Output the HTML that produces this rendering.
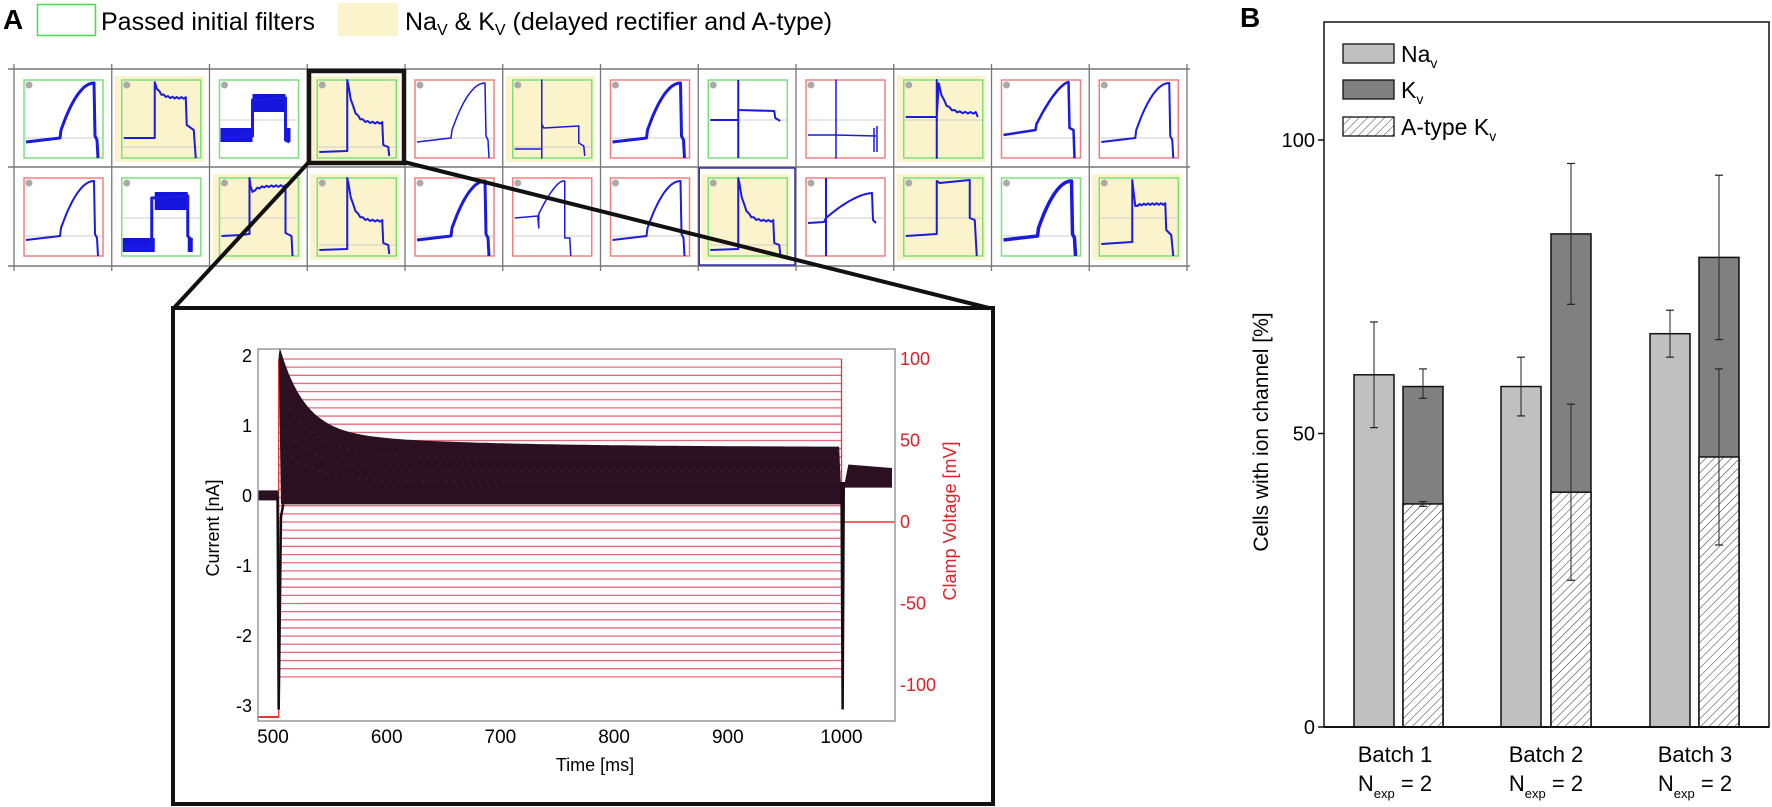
<!DOCTYPE html>
<html><head><meta charset="utf-8"><style>
html,body{margin:0;padding:0;background:#fff;}
svg{display:block;font-family:"Liberation Sans",sans-serif;}
</style></head><body>
<svg id="s" width="1772" height="807" viewBox="0 0 1772 807" xmlns="http://www.w3.org/2000/svg">
<defs>
<pattern id="hatch" patternUnits="userSpaceOnUse" width="6" height="6" patternTransform="rotate(45)">
<rect width="6" height="6" fill="#fff"/><line x1="0" y1="0" x2="0" y2="6" stroke="#333" stroke-width="1"/>
</pattern>
</defs>
<text x="3" y="29" font-size="28" font-weight="bold">A</text>
<rect x="37.5" y="4.5" width="58" height="31" fill="#fff" stroke="#44dd44" stroke-width="1.5"/>
<text x="101" y="30" font-size="25">Passed initial filters</text>
<rect x="338" y="3" width="60" height="33" fill="#fbf3cc"/>
<text x="405" y="30" font-size="25">Na<tspan font-size="16" dy="5">V</tspan><tspan dy="-5"> &amp; K</tspan><tspan font-size="16" dy="5">V</tspan><tspan dy="-5"> (delayed rectifier and A-type)</tspan></text>
<g id="grid"></g>
<line x1="309" y1="162" x2="173" y2="309" stroke="#111" stroke-width="4"/>
<line x1="404" y1="162" x2="993" y2="309" stroke="#111" stroke-width="4"/>
<rect x="309" y="71" width="95" height="92" fill="none" stroke="#1a1410" stroke-width="4.5"/>
<rect x="173" y="308" width="820" height="496" fill="#fff" stroke="#111" stroke-width="4"/>
<g id="inset"></g>
<text x="1240" y="27" font-size="28" font-weight="bold">B</text>
<g id="pb"></g>
</svg>
<script>
var NS="http://www.w3.org/2000/svg";
function el(p,t,a,txt){var e=document.createElementNS(NS,t);for(var k in a)e.setAttribute(k,a[k]);if(txt!==undefined)e.textContent=txt;p.appendChild(e);return e;}
var g=document.getElementById('grid');
var x0=14,step=97.75,rows=[69,167,266];
var R1=[['g',0,'r',3],['g',1,'s',2],['g',0,'n',3],['g',1,'d',2],['r',0,'r',1.5],['g',1,'p',1.5],['r',0,'r',3],['g',0,'c',2],['r',0,'l',1.5],['g',1,'d2',2],['r',0,'r2',2.5],['r',0,'r',2]];
var R2=[['r',0,'r',2],['g',0,'n2',3],['g',1,'d3',2],['g',1,'d',2],['r',0,'r',3],['r',0,'r3',1.5],['r',0,'r',2],['g',1,'d',2],['r',0,'c2',2],['g',1,'q',2],['g',0,'r',3.5],['g',1,'s2',2]];
function tracePath(t){
 var p='';
 function curve(x1,y1,x2,y2,k){var s='';for(var i=0;i<=12;i++){var u=i/12;var x=x1+(x2-x1)*u;var y=y1+(y2-y1)*(1-Math.pow(1-u,k));s+=' L'+x.toFixed(1)+' '+y.toFixed(1);}return s;}
 function decay(x1,y1,x2,y2){var s='';for(var i=0;i<=14;i++){var u=i/14;var x=x1+(x2-x1)*u;var y=y2+(y1-y2)*Math.exp(-u*6);s+=' L'+x.toFixed(1)+' '+(y+(i%2?0.8:-0.8)).toFixed(1);}return s;}
 switch(t){
 case 'r': p='M2 62 L36 58 L37 50'+curve(37,50,70,3,2)+' L71 56 L73 60 L74 78';break;
 case 'r2': p='M2 55 L34 50 L35 44'+curve(35,44,67,2,1.5)+' L68 48 L72 50 L73 78';break;
 case 'r3': p='M2 40 L25 38 L26 50 L26 36'+curve(26,36,50,3,1.5)+' L52 3 L52 60 L57 60 L58 78';break;
 case 's': p='M2 58 L33 58 L33 3'+decay(33,3,64,18)+' L65 45 L72 50 L74 78';break;
 case 's2': p='M2 66 L33 64 L33 2 L36 28'+decay(36,28,66,26)+' L67 52 L72 57 L74 78';break;
 case 'q': p='M2 58 L33 56 L33 3 L36 5 L66 2 L66 40 L71 42 L73 78';break;
 case 'd': p='M2 72 L30 71 L30 0 L31 5'+decay(31,5,65,43)+' L66 65 L71 67 L72 76';break;
 case 'd2': p='M2 37 L33 37 L33 0 L33 78 L33 37 L35 4'+decay(35,4,72,33)+' L74 37';break;
 case 'd3': p='M2 58 L22 57 L30 56 L30 0 L31 8 L33 14'+decay(33,14,66,8)+' L66 55 L72 58 L73 78';break;
 case 'p': p='M2 69 L29 69 L29 0 L29 78 L29 44 L31 48 L66 46 L66 63 L71 66 L72 76';break;
 case 'c': p='M2 40 L30 40 M30 0 L30 78 M30 30 L66 31 L67 38 L72 41';break;
 case 'c2': p='M2 45 L18 44 L20 40'+curve(20,40,66,15,1.6)+' L67 42 L70 45 M20 0 L20 78';break;
 case 'l': p='M2 55 L30 55 L30 0 L30 78 L30 55 L70 56 M68 48 L68 72 M71 46 L71 72';break;
 case 'n': p='M2 58 L33 56 L33 20 L66 18 L66 60 L70 62';break;
 case 'n2': p='M2 70 L30 70 L30 20 L66 18 L66 58 L70 62';break;
 }
 return p;
}
[R1,R2].forEach(function(row,ri){
 var ty=rows[ri];
 row.forEach(function(c,ci){
  var cx=x0+ci*step;
  var fx=cx+10, fy=ty+11;
  if(c[1]) el(g,'rect',{x:cx+3,y:ty+7,width:89,height:86,fill:'#fbf3cc'});
  el(g,'rect',{x:fx,y:fy,width:79,height:78,fill:c[1]?'#fbf3cc':'#fff',stroke:c[0]=='g'?'#7de07d':'#f08080','stroke-width':1.5});
  el(g,'circle',{cx:fx+5,cy:fy+5,r:3.5,fill:'#aaa'});
  var t=c[2];
  var gy=(t=='d'||t=='s'||t=='p')?67:(t[0]=='r'?58:40);
  el(g,'line',{x1:fx+1,y1:fy+gy,x2:fx+78,y2:fy+gy,stroke:'#ccc','stroke-width':1});
  var gg=el(g,'g',{transform:'translate('+fx+','+fy+')'});
  if(t=='n'||t=='n2'){
   var y1=t=='n'?56:68, y2=20;
   el(gg,'rect',{x:1,y:y1-8,width:32,height:14,fill:'#1515dd'});
   el(gg,'rect',{x:33,y:y2-6,width:33,height:18,fill:'#1515dd'});
   el(gg,'rect',{x:66,y:y1-8,width:5,height:14,fill:'#1515dd'});
  }
  el(gg,'path',{d:tracePath(t),fill:'none',stroke:'#1a1ae0','stroke-width':c[3],'stroke-linejoin':'round'});
 });
});
[69,167,266].forEach(function(y){el(g,'line',{x1:8,y1:y,x2:1190,y2:y,stroke:'#777','stroke-width':1.5});});
for(var i=0;i<=12;i++){var x=x0+i*step;el(g,'line',{x1:x,y1:64,x2:x,y2:271,stroke:'#777','stroke-width':1.3});}
el(g,'rect',{x:x0+7*step+1,y:168,width:step-2,height:97,fill:'none',stroke:'#3333aa','stroke-width':1.5});

var ins=document.getElementById('inset');
var L=258,Rr=895,T=349,B=721;
function X(ms){return 273+(ms-500)*1.137;}
function Yc(nA){return 496-nA*70;}
function Yv(mv){return 522-mv*1.63;}
for(var v=100;v>=-95;v-=5){el(ins,'line',{x1:X(505),y1:Yv(v),x2:X(1000),y2:Yv(v),stroke:'#e86a7a','stroke-width':1.3});}
el(ins,'line',{x1:X(505),y1:Yv(100),x2:X(505),y2:Yv(-120),stroke:'#e33','stroke-width':1.3});
el(ins,'line',{x1:X(1000),y1:Yv(100),x2:X(1000),y2:Yv(0),stroke:'#e33','stroke-width':1.3});
el(ins,'line',{x1:X(1000),y1:Yv(0),x2:Rr,y2:Yv(0),stroke:'#e33','stroke-width':1.5});
el(ins,'line',{x1:L,y1:717,x2:X(505),y2:717,stroke:'#e33','stroke-width':2});
var pts=[];
for(var ms=506;ms<=1000;ms+=4){var a=0.72+1.2*Math.exp(-(ms-506)/22)+0.22*Math.exp(-(ms-506)/140);pts.push([X(ms),Yc(a)+((ms/4)%2?1.5:-1.5)]);}
var d='M'+X(505)+' '+Yc(2);pts.forEach(function(p){d+=' L'+p[0].toFixed(1)+' '+p[1].toFixed(1);});
d+=' L'+X(1000)+' '+Yc(-0.12)+' L'+X(507)+' '+Yc(-0.12)+' Z';
el(ins,'path',{d:d,fill:'#2a1020'});
el(ins,'rect',{x:L,y:Yc(0.08),width:X(505)-L,height:10,fill:'#2a1020'});
el(ins,'path',{d:'M'+X(504)+' '+Yc(0)+' L'+X(505)+' '+Yc(-3.05)+' L'+X(507)+' '+Yc(-0.3)+' L'+X(509)+' '+Yc(-0.12),fill:'none',stroke:'#1a0a12','stroke-width':2.5});
el(ins,'path',{d:'M'+X(1000)+' '+Yc(0.2)+' L'+X(1001)+' '+Yc(-3.05)+' L'+X(1002)+' '+Yc(0.2),fill:'none',stroke:'#1a0a12','stroke-width':2.5});
el(ins,'path',{d:'M'+X(1003)+' '+Yc(0.2)+' L'+X(1006)+' '+Yc(0.45)+' L'+(Rr-3)+' '+Yc(0.4)+' L'+(Rr-3)+' '+Yc(0.12)+' L'+X(1003)+' '+Yc(0.12)+' Z',fill:'#2a1020'});
[0.55,0.35,0.2].forEach(function(b,i){var dd='';for(var ms=510;ms<=1000;ms+=10){var a=b+(0.9-0.2*i)*Math.exp(-(ms-506)/30);dd+=(dd?' L':'M')+X(ms).toFixed(1)+' '+Yc(a).toFixed(1);}el(ins,'path',{d:dd,fill:'none',stroke:'#4a2a3a','stroke-width':1,'stroke-dasharray':'2 6'});});
el(ins,'rect',{x:L,y:T,width:Rr-L,height:B-T,fill:'none',stroke:'#888','stroke-width':1.3});
[[2,'2'],[1,'1'],[0,'0'],[-1,'-1'],[-2,'-2'],[-3,'-3']].forEach(function(t){el(ins,'text',{x:252,y:Yc(t[0])+6,'font-size':18,'text-anchor':'end'},t[1]);});
[500,600,700,800,900,1000].forEach(function(t){el(ins,'text',{x:X(t),y:743,'font-size':19,'text-anchor':'middle'},String(t));});
el(ins,'text',{x:595,y:771,'font-size':18,'text-anchor':'middle'},'Time [ms]');
el(ins,'text',{x:0,y:0,'font-size':18,'text-anchor':'middle',transform:'translate(219,528) rotate(-90)'},'Current [nA]');
[[100,'100'],[50,'50'],[0,'0'],[-50,'-50'],[-100,'-100']].forEach(function(t){el(ins,'text',{x:900,y:Yv(t[0])+6,'font-size':18,fill:'#e0202a'},t[1]);});
el(ins,'text',{x:0,y:0,'font-size':18,fill:'#e0202a','text-anchor':'middle',transform:'translate(956,521) rotate(-90)'},'Clamp Voltage [mV]');

var pb=document.getElementById('pb');
function Y(v){return 727-5.87*v;}
var PL=1324,PR=1769,PT=22;
el(pb,'rect',{x:PL,y:PT,width:PR-PL,height:727-PT,fill:'#fff',stroke:'#111','stroke-width':1.5});
function bar(x,w,v,f){el(pb,'rect',{x:x,y:Y(v),width:w,height:727-Y(v),fill:f,stroke:'#111','stroke-width':1.5});}
function eb(cx,lo,hi){el(pb,'line',{x1:cx,y1:Y(lo),x2:cx,y2:Y(hi),stroke:'#222','stroke-width':1});
 [lo,hi].forEach(function(v){el(pb,'line',{x1:cx-4,y1:Y(v),x2:cx+4,y2:Y(v),stroke:'#222','stroke-width':1.2});});}
var data=[[1354,60,51,69,1403,58,56,61,38,37.6,38.4],[1501,58,53,63,1551,84,72,96,40,25,55],[1650,67,63,71,1699,80,66,94,46,31,61]];
data.forEach(function(d){
 bar(d[0],40,d[1],'#c0c0c0');
 bar(d[4],40,d[5],'#808080');
 el(pb,'rect',{x:d[4],y:Y(d[8]),width:40,height:727-Y(d[8]),fill:'url(#hatch)',stroke:'#111','stroke-width':1.5});
 eb(d[0]+20,d[2],d[3]);eb(d[4]+20,d[6],d[7]);eb(d[4]+20,d[9],d[10]);
});
el(pb,'line',{x1:PL,y1:727,x2:PR,y2:727,stroke:'#111','stroke-width':2});
[[0,'0'],[50,'50'],[100,'100']].forEach(function(t){el(pb,'line',{x1:PL-6,y1:Y(t[0]),x2:PL,y2:Y(t[0]),stroke:'#111','stroke-width':1.5});
 el(pb,'text',{x:PL-9,y:Y(t[0])+7,'font-size':20,'text-anchor':'end'},t[1]);});
el(pb,'text',{x:0,y:0,'font-size':21,'text-anchor':'middle',transform:'translate(1268,432) rotate(-90)'},'Cells with ion channel [%]');
[['#c0c0c0',44,'Na'],['#808080',80,'K'],['url(#hatch)',117,'A-type K']].forEach(function(l){
 el(pb,'rect',{x:1343,y:l[1],width:51,height:19,fill:l[0],stroke:'#111','stroke-width':1.3});
 var t=el(pb,'text',{x:1401,y:l[1]+18,'font-size':23},l[2]);
 var s=document.createElementNS(NS,'tspan');s.setAttribute('font-size','14');s.setAttribute('dy','6');s.textContent='v';t.appendChild(s);
});
[['Batch 1',1395],['Batch 2',1546],['Batch 3',1695]].forEach(function(b){
 el(pb,'text',{x:b[1],y:762,'font-size':22,'text-anchor':'middle'},b[0]);
 var t=el(pb,'text',{x:b[1],y:791,'font-size':22,'text-anchor':'middle'},'N');
 var s=document.createElementNS(NS,'tspan');s.setAttribute('font-size','13');s.setAttribute('dy','7');s.textContent='exp';t.appendChild(s);
 var s2=document.createElementNS(NS,'tspan');s2.setAttribute('dy','-7');s2.textContent=' = 2';t.appendChild(s2);
});
</script>
</body></html>
